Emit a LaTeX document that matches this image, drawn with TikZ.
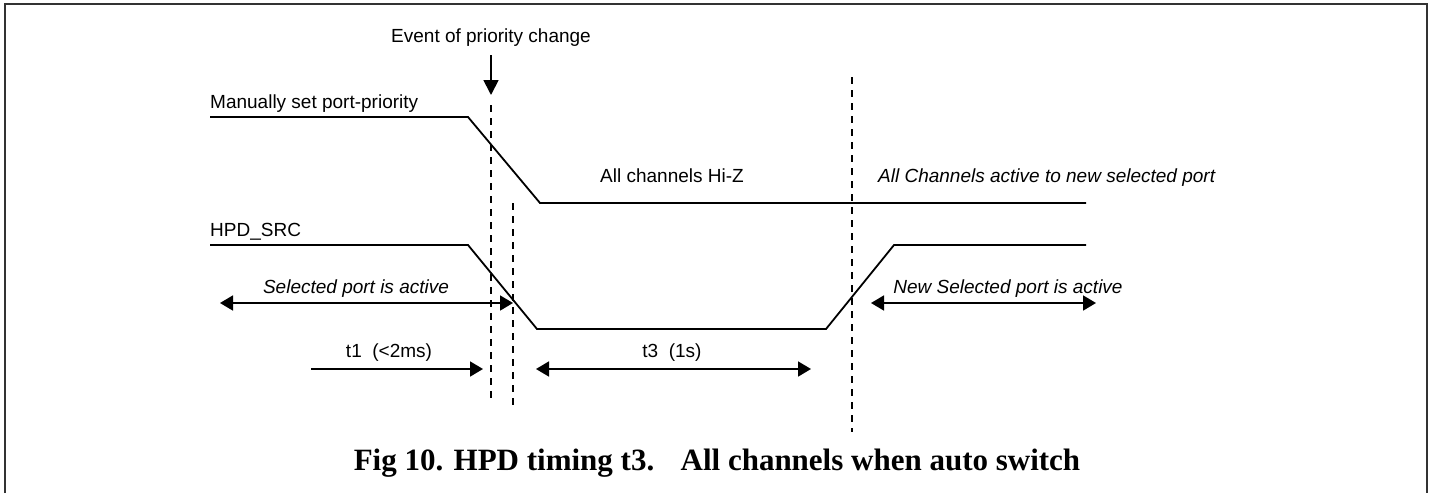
\documentclass[tikz,border=0pt]{standalone}
\usepackage{fontspec}
\setmainfont{Liberation Serif}
\setsansfont{Liberation Sans}
\usetikzlibrary{arrows.meta}

\tikzset{
  wave/.style={line width=1.8pt},
  guide/.style={line width=1.6pt, dash pattern=on 7pt off 6pt},
  span/.style={line width=1.8pt},
  lbl/.style={font=\sffamily\fontsize{19}{19}\selectfont, inner sep=0pt},
  ilbl/.style={font=\sffamily\itshape\fontsize{19}{19}\selectfont, inner sep=0pt},
}

\begin{document}
\begin{tikzpicture}[x=1pt, y=-1pt, >={Triangle[length=13pt,width=15pt]}]
        \useasboundingbox (0,0) rectangle (1432,493);
        % frame
        \draw[line width=1.5pt, black!80] (5,493) -- (5,4) -- (1427,4) -- (1427,493);
        % labels
        \node[lbl, anchor=base] (event) at (491,42) {Event of priority change};
        \node[lbl, anchor=base west] (mset) at (210,108) {Manually set port-priority};
        \node[lbl, anchor=base] (hiz) at (672,182) {All channels Hi-Z};
        \node[ilbl, anchor=base west] (newall) at (878,182) {All Channels active to new selected port};
        \node[lbl, anchor=base west] (hpd) at (210,236) {HPD\_SRC};
        \node[ilbl, anchor=base] (selact) at (356,293) {Selected port is active};
        \node[ilbl, anchor=base] (newact) at (1008,293) {New Selected port is active};
        \node[lbl, anchor=base] (tone) at (389,357) {t1\ \ (<2ms)};
        \node[lbl, anchor=base] (tthree) at (672,357) {t3\ \ (1s)};
        \node[font=\bfseries\fontsize{31}{31}\selectfont, anchor=base, inner sep=0pt] (caption) at (717,470)
            {Fig 10. HPD timing t3.\hspace{0.85em}All channels when auto switch};
        % port-priority wave
        \coordinate (m0) at (210,117);
        \coordinate (m1) at (468,117);
        \coordinate (m2) at (540,203);
        \coordinate (m3) at (1086,203);
        \draw[wave] (m0) -- (m1) -- (m2) -- (m3);
        % HPD_SRC wave
        \coordinate (h0) at (210,245);
        \coordinate (h1) at (468,245);
        \coordinate (h2) at (537,329);
        \coordinate (h3) at (826,329);
        \coordinate (h4) at (894,245);
        \coordinate (h5) at (1086,245);
        \draw[wave] (h0) -- (h1) -- (h2) -- (h3) -- (h4) -- (h5);
        % dashed markers
        \coordinate (d1a) at (491,105);
        \coordinate (d1b) at (491,400);
        \coordinate (d2a) at (513,203);
        \coordinate (d2b) at (513,408);
        \coordinate (d3a) at (852,77);
        \coordinate (d3b) at (852,432);
        \draw[guide] (d1a) -- (d1b);
        \draw[guide] (d2a) -- (d2b);
        \draw[guide] (d3a) -- (d3b);
        % event arrow
        \coordinate (evtip) at (491,95);
        \draw[span, -{Triangle[length=15pt,width=15pt]}, shorten <=9pt] (event) -- (evtip);
        % spans
        \coordinate (sa) at (220,303);
        \coordinate (sb) at (513,303);
        \draw[span, <->] (sa) -- (sb);
        \coordinate (na) at (871,303);
        \coordinate (nb) at (1096,303);
        \draw[span, <->] (na) -- (nb);
        \coordinate (ta) at (311,369);
        \coordinate (tb) at (483,369);
        \draw[span, ->] (ta) -- (tb);
        \coordinate (tc) at (536,369);
        \coordinate (td) at (811,369);
        \draw[span, <->] (tc) -- (td);
    \end{tikzpicture}
\end{document}
